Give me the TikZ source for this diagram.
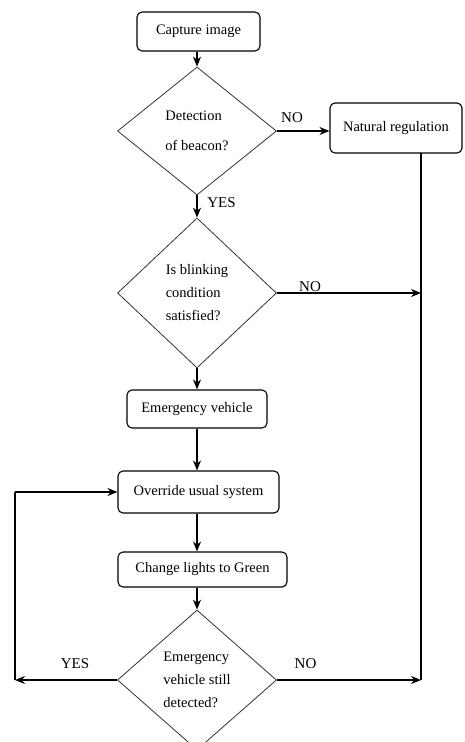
\documentclass[tikz,border=0pt]{standalone}
\usepackage{fontspec}
\setmainfont{Liberation Serif}
\usetikzlibrary{shapes.geometric,arrows.meta}
\begin{document}
\begin{tikzpicture}[x=1pt,y=-1pt,
  box/.style={draw, line width=1.1pt, rounded corners=5pt, inner sep=0pt, font=\fontsize{14.5}{17}\selectfont},
  dec/.style={draw=black!80, line width=0.8pt, shape=diamond, inner sep=0pt, align=left, font=\fontsize{14.5}{23}\selectfont},
  arr/.style={-{Stealth[length=10pt,width=8pt]}, line width=1.2pt},
  ln/.style={line width=1.2pt},
  lbl/.style={font=\fontsize{15}{18}\selectfont, inner sep=0pt}]
\useasboundingbox (0,0) rectangle (465,742);
% boxes
\node[box, minimum width=123pt, minimum height=39pt] (cap) at (198.5,31.5) {Capture image};
\node[box, minimum width=132pt, minimum height=50pt] (nat) at (396,128) {Natural regulation};
\node[box, minimum width=140pt, minimum height=38pt] (em) at (197,409) {Emergency vehicle};
\node[box, minimum width=161pt, minimum height=42pt] (ov) at (198.5,492) {Override usual system};
\node[box, minimum width=169pt, minimum height=35pt] (ch) at (202.5,569.5) {Change lights to Green};
% decisions
\node[dec, minimum width=159pt, minimum height=128pt, font=\fontsize{14.5}{30}\selectfont] (d1) at (197,131) {Detection\\of beacon?};
\node[dec, minimum width=159pt, minimum height=150pt] (d2) at (197,293) {Is blinking\\condition\\satisfied?};
\node[dec, minimum width=159pt, minimum height=140pt] (d3) at (197,680) {Emergency\\vehicle still\\detected?};
% helper coordinates
\coordinate (rtop) at (421,153);
\coordinate (r2) at (421,293);
\coordinate (r3) at (421,680);
\coordinate (l3) at (15,680);
\coordinate (lup) at (15,492);
% connectors
\draw[arr] (d1.north |- cap.south) -- (d1.north);
\draw[arr] (d1.east) -- (d1.east -| nat.west);
\draw[arr] (d1.south) -- (d2.north);
\draw[arr] (d2.east) -- (r2);
\draw[arr] (d2.south) -- (em.north);
\draw[arr] (em.south) -- (em.south |- ov.north);
\draw[arr] (em.south |- ov.south) -- (em.south |- ch.north);
\draw[arr] (d3.north |- ch.south) -- (d3.north);
\draw[ln] (rtop) -- (r3);
\draw[arr] (d3.east) -- (r3);
\draw[arr] (d3.west) -- (l3);
\draw[ln] (l3) -- (lup);
\draw[arr] (lup) -- (ov.west);
% labels
\node[lbl] (no1) at (292,118) {NO};
\node[lbl] (yes1) at (221.5,203) {YES};
\node[lbl] (no2) at (310,287) {NO};
\node[lbl] (yes3) at (75,664) {YES};
\node[lbl] (no3) at (305.5,664) {NO};
\end{tikzpicture}
\end{document}
